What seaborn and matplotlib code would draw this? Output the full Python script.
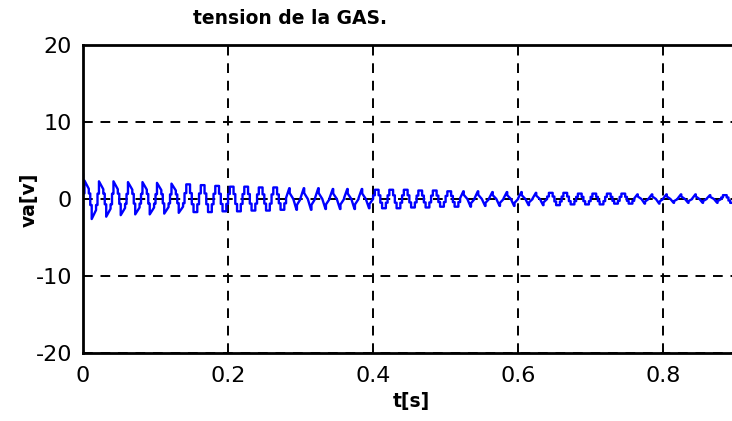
import numpy as np
import pandas as pd
import matplotlib
matplotlib.use("Agg")
import matplotlib.pyplot as plt
import seaborn as sns

# --- data -----------------------------------------------------------------
period = 0.02  # s, 50 Hz

# per-cycle positive peak and negative trough (V), 45 cycles from t=0 to 0.9 s
peak_pos = [2.4, 2.3, 2.3, 2.2, 2.2, 2.1, 2.0, 1.9, 1.8, 1.7,
            1.6, 1.6, 1.5, 1.5, 1.4, 1.4, 1.4, 1.3, 1.3, 1.3,
            1.2, 1.2, 1.2, 1.1, 1.1, 1.0, 1.0, 1.0, 0.9, 0.9,
            0.9, 0.8, 0.8, 0.8, 0.7, 0.7, 0.7, 0.7, 0.6, 0.6,
            0.6, 0.6, 0.6, 0.5, 0.5]
peak_neg = [-2.6, -2.3, -2.1, -2.0, -2.0, -1.9, -1.8, -1.7, -1.7, -1.6,
            -1.6, -1.5, -1.5, -1.4, -1.4, -1.4, -1.3, -1.3, -1.3, -1.2,
            -1.2, -1.2, -1.1, -1.1, -1.0, -1.0, -1.0, -0.9, -0.9, -0.9,
            -0.8, -0.8, -0.8, -0.7, -0.7, -0.7, -0.6, -0.6, -0.6, -0.6,
            -0.5, -0.5, -0.5, -0.5, -0.5]
# waveform shape of each cycle: 'r' ramp-topped step, 's' six-step, 't' zig-zag
cycle_shape = list("rrrrrrr" "sssssss" "tttttt" "ssssss" "tttttt" "ssssss" "tttttt" "ss")

# one-period templates (phase, normalised level)
templates = {
    "s": ([0, 0.12, 0.12, 0.38, 0.38, 0.5, 0.5, 0.62, 0.62, 0.88, 0.88, 1],
          [0.4, 0.4, 1, 1, 0.4, 0.4, -0.4, -0.4, -1, -1, -0.4, -0.4]),
    "r": ([0, 0.1, 0.1, 0.4, 0.4, 0.5, 0.5, 0.6, 0.6, 0.9, 0.9, 1],
          [0.3, 0.3, 1, 0.55, 0.3, 0.3, -0.3, -0.3, -1, -0.55, -0.3, -0.3]),
    "t": ([0, 0.22, 0.25, 0.25, 0.5, 0.72, 0.75, 0.75, 1],
          [0.1, 1, 1, 0.55, 0, -1, -1, -0.55, 0]),
}

start_spike = 3.3

x_ticks = [0, 0.2, 0.4, 0.6, 0.8]
y_ticks = [-20, -10, 0, 10, 20]

# --- build the series -----------------------------------------------------
t_vals = [0.0]
v_vals = [start_spike]
for i, (p, n, s) in enumerate(zip(peak_pos, peak_neg, cycle_shape)):
    ph, lv = templates[s]
    for a, b in zip(ph, lv):
        t_vals.append((i + a) * period)
        v_vals.append(b * p if b >= 0 else -b * n)
df = pd.DataFrame({"t": t_vals, "va": v_vals})

# --- plot -----------------------------------------------------------------
sns.set_theme(style="white")
plt.rcParams["font.family"] = ["DejaVu Sans"]

fig = plt.figure(figsize=(7.32, 4.21), dpi=100)
ax = fig.add_axes([83 / 732, 1 - 353 / 421, 1 - 83 / 732 + 0.01, (353 - 45) / 421])

sns.lineplot(data=df, x="t", y="va", ax=ax, color="#0000ff", lw=1.7,
             estimator=None, sort=False)

ax.set_xlim(0, 0.905)
ax.set_ylim(-20, 20)
ax.set_xticks(x_ticks)
ax.set_xticklabels(["0", "0.2", "0.4", "0.6", "0.8"])
ax.set_yticks(y_ticks)
ax.set_yticklabels([str(v) for v in y_ticks])
ax.tick_params(direction="in", length=4, width=1.5, labelsize=16,
               colors="black", labelcolor="black")
ax.tick_params(axis="x", pad=9)
ax.tick_params(axis="y", pad=8)
ax.grid(True, color="black", linestyle=(0, (5, 4)), linewidth=1.4)
for sp in ax.spines.values():
    sp.set_color("black")
    sp.set_linewidth(2)

ax.set_xlabel("")
ax.set_ylabel("")
fig.text(411 / 732, 1 - 401 / 421, "t[s]", ha="center", va="center",
         fontsize=13.5, fontweight="bold", color="black")
fig.text(29 / 732, 1 - 200 / 421, "va[v]", ha="center", va="center",
         rotation=90, fontsize=13.5, fontweight="bold", color="black")
fig.text(290 / 732, 1 - 19 / 421, "tension de la GAS.", ha="center",
         va="center", fontsize=13.5, fontweight="bold", color="black")

fig.savefig("out.png", dpi=100)
